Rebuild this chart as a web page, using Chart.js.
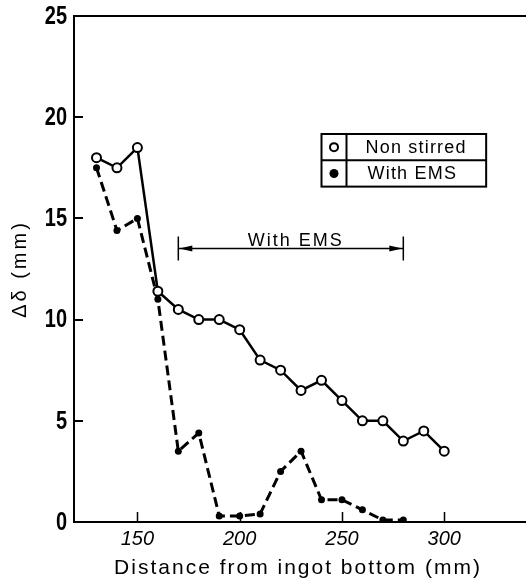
<!DOCTYPE html>
<html>
<head>
<meta charset="utf-8">
<script src="https://cdn.jsdelivr.net/npm/chart.js@4.4.1/dist/chart.umd.min.js"></script>
<style>
  html, body { margin: 0; padding: 0; background: #fff; overflow: hidden; }
  canvas { display: block; }
</style>
</head>
<body>
<canvas id="grafico" width="526" height="578"></canvas>
<script>
// distance from ingot bottom (mm)
const posNonStirred = [130, 140, 150, 160, 170, 180, 190, 200, 210, 220, 230, 240, 250, 260, 270, 280, 290, 300];
const nonStirred = [18.0, 17.5, 18.5, 11.4, 10.5, 10.0, 10.0, 9.5, 8.0, 7.5, 6.5, 7.0, 6.0, 5.0, 5.0, 4.0, 4.5, 3.5];

const posEms = [130, 140, 150, 160, 170, 180, 190, 200, 210, 220, 230, 240, 250, 260, 270, 280];
const withEms = [17.5, 14.4, 15.0, 11.0, 3.5, 4.4, 0.3, 0.3, 0.4, 2.5, 3.5, 1.1, 1.1, 0.6, 0.1, 0.1];

const xTicks = [150, 200, 250, 300];
const yTicks = [0, 5, 10, 15, 20, 25];

const labels = ['Non stirred', 'With EMS'];
const emsRange = [170, 280];
const emsText = 'With EMS';
const xTitle = 'Distance from ingot bottom (mm)';
const yTitle = 'Δδ (mm)';

const sans = '"Liberation Sans", Arial, sans-serif';

function pares(xs, ys) {
    return xs.map((x, i) => ({ x: x, y: ys[i] }));
}

// frame lines, inward ticks, condensed y labels
const moldura = {
    id: 'moldura',
    beforeDatasetsDraw(chart) {
        const { ctx, chartArea: a, scales: { x, y } } = chart;
        ctx.save();
        ctx.strokeStyle = '#000';
        ctx.fillStyle = '#000';
        ctx.lineWidth = 2;
        // top line and bottom axis run on to the edge of the picture
        ctx.beginPath();
        ctx.moveTo(a.left - 1, a.top);
        ctx.lineTo(chart.width, a.top);
        ctx.moveTo(a.left - 1, a.bottom);
        ctx.lineTo(chart.width, a.bottom);
        ctx.stroke();

        ctx.beginPath();
        for (const t of y.ticks) {
            if (t.value <= 0 || t.value >= 25) continue;
            const py = Math.round(y.getPixelForValue(t.value));
            ctx.moveTo(a.left, py);
            ctx.lineTo(a.left + 9, py);
        }
        ctx.stroke();

        ctx.lineWidth = 1.5;
        ctx.beginPath();
        for (const t of x.ticks) {
            const px = Math.round(x.getPixelForValue(t.value)) + 0.5;
            ctx.moveTo(px, a.bottom);
            ctx.lineTo(px, a.bottom - 10);
        }
        ctx.stroke();

        // y tick labels, narrow like the original print
        ctx.font = 'bold 25px ' + sans;
        ctx.textAlign = 'right';
        ctx.textBaseline = 'middle';
        for (const t of y.ticks) {
            const py = y.getPixelForValue(t.value);
            ctx.save();
            ctx.translate(a.left - 7, py + 1);
            ctx.scale(0.8, 1);
            ctx.fillText(String(t.value), 0, 0);
            ctx.restore();
        }
        ctx.restore();
    }
};

// legend box, the "With EMS" range arrow and the axis titles
const extras = {
    id: 'extras',
    afterDraw(chart) {
        const { ctx, chartArea: a, scales: { x, y } } = chart;
        ctx.save();
        ctx.strokeStyle = '#000';
        ctx.fillStyle = '#000';

        // range arrow
        const x1 = x.getPixelForValue(emsRange[0]);
        const x2 = x.getPixelForValue(emsRange[1]);
        const ly = Math.round(y.getPixelForValue(13.55)) + 0.5;
        ctx.lineWidth = 1.5;
        ctx.beginPath();
        ctx.moveTo(x1, ly); ctx.lineTo(x2, ly);
        ctx.moveTo(x1, ly - 12); ctx.lineTo(x1, ly + 12);
        ctx.moveTo(x2, ly - 12); ctx.lineTo(x2, ly + 12);
        ctx.stroke();
        ctx.beginPath();
        ctx.moveTo(x1 + 1, ly); ctx.lineTo(x1 + 14, ly - 3); ctx.lineTo(x1 + 14, ly + 3); ctx.closePath();
        ctx.moveTo(x2 - 1, ly); ctx.lineTo(x2 - 14, ly - 3); ctx.lineTo(x2 - 14, ly + 3); ctx.closePath();
        ctx.fill();

        ctx.font = '18px ' + sans;
        ctx.letterSpacing = '2px';
        ctx.textAlign = 'center';
        ctx.textBaseline = 'alphabetic';
        ctx.fillText(emsText, x.getPixelForValue(227.4), ly - 3);

        // legend
        const bl = x.getPixelForValue(240), br = x.getPixelForValue(320.5);
        const bt = y.getPixelForValue(19.17), bb = y.getPixelForValue(16.57);
        const bm = (bt + bb) / 2;
        const bc = bl + 25;
        ctx.lineWidth = 2;
        ctx.strokeRect(bl, bt, br - bl, bb - bt);
        ctx.beginPath();
        ctx.moveTo(bl, bm); ctx.lineTo(br, bm);
        ctx.moveTo(bc, bt); ctx.lineTo(bc, bb);
        ctx.stroke();

        const sx = (bl + bc) / 2;
        ctx.beginPath();
        ctx.arc(sx, (bt + bm) / 2, 4, 0, Math.PI * 2);
        ctx.fillStyle = '#fff';
        ctx.fill();
        ctx.stroke();
        ctx.fillStyle = '#000';
        ctx.beginPath();
        ctx.arc(sx, (bm + bb) / 2, 4.5, 0, Math.PI * 2);
        ctx.fill();

        ctx.font = '18px ' + sans;
        ctx.letterSpacing = '1.2px';
        ctx.textAlign = 'left';
        ctx.textBaseline = 'middle';
        ctx.fillText(labels[0], bc + 19, (bt + bm) / 2 + 1);
        ctx.fillText(labels[1], bc + 21, (bm + bb) / 2 + 1);

        // axis titles
        ctx.font = '21px ' + sans;
        ctx.letterSpacing = '2px';
        ctx.textAlign = 'center';
        ctx.textBaseline = 'alphabetic';
        ctx.fillText(xTitle, 298, 574);

        ctx.save();
        ctx.translate(20, (a.top + a.bottom) / 2);
        ctx.rotate(-Math.PI / 2);
        ctx.font = '20px ' + sans;
        ctx.letterSpacing = '3px';
        ctx.textBaseline = 'middle';
        ctx.fillText(yTitle, 0, 0);
        ctx.restore();

        ctx.restore();
    }
};

new Chart(document.getElementById('grafico'), {
    type: 'line',
    data: {
        datasets: [
            {
                label: labels[0],
                data: pares(posNonStirred, nonStirred),
                borderColor: '#000',
                borderWidth: 2.5,
                pointRadius: 4.5,
                pointBorderWidth: 2,
                pointBackgroundColor: '#fff',
                pointBorderColor: '#000',
                tension: 0
            },
            {
                label: labels[1],
                data: pares(posEms, withEms),
                borderColor: '#000',
                borderWidth: 3,
                borderDash: [10, 5],
                pointRadius: 3.5,
                pointBorderWidth: 0,
                pointBackgroundColor: '#000',
                tension: 0
            }
        ]
    },
    options: {
        responsive: false,
        animation: false,
        events: [],
        layout: { padding: { top: 16, right: 0, left: 0, bottom: 0 } },
        plugins: {
            legend: { display: false },
            tooltip: { enabled: false }
        },
        scales: {
            x: {
                type: 'linear',
                min: 119,
                max: 336.8,
                afterBuildTicks: (s) => { s.ticks = xTicks.map(v => ({ value: v })); },
                afterFit: (s) => { s.height = 56; s.paddingLeft = 0; s.paddingRight = 0; },
                border: { display: false },
                grid: { drawOnChartArea: false, drawTicks: false },
                ticks: {
                    color: '#000',
                    padding: 5,
                    font: { family: sans, size: 20, style: 'italic' }
                }
            },
            y: {
                min: 0,
                max: 25,
                afterBuildTicks: (s) => { s.ticks = yTicks.map(v => ({ value: v })); },
                afterFit: (s) => { s.width = 74; s.paddingTop = 0; s.paddingBottom = 0; },
                border: { display: true, color: '#000', width: 2 },
                grid: { drawOnChartArea: false, drawTicks: false },
                ticks: { display: false }
            }
        }
    },
    plugins: [moldura, extras]
});
</script>
</body>
</html>
